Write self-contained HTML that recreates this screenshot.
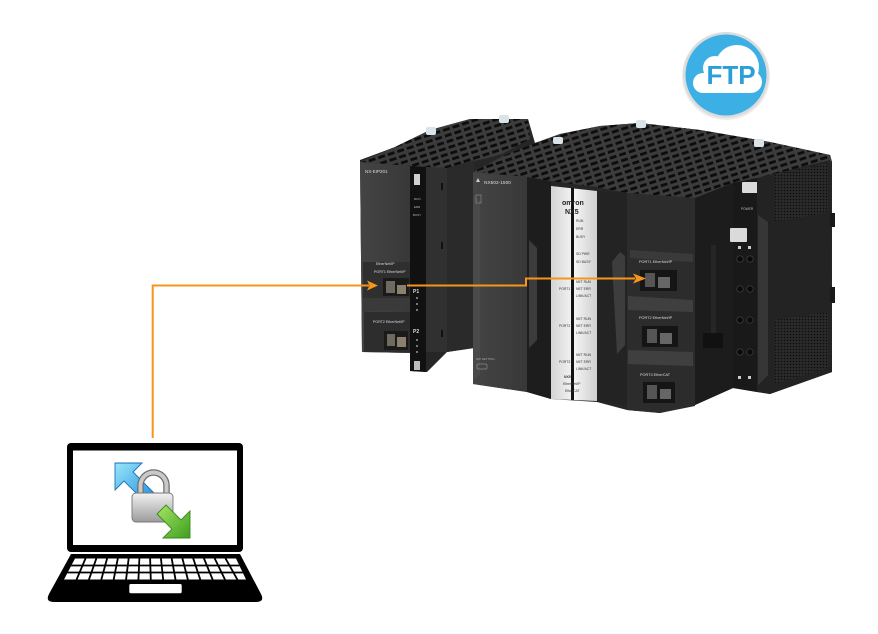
<!DOCTYPE html>
<html><head><meta charset="utf-8">
<style>
html,body{margin:0;padding:0;background:#fff;}
svg{display:block;}
text{font-family:"Liberation Sans",sans-serif;}
</style></head><body>
<svg width="878" height="634" viewBox="0 0 878 634" xmlns="http://www.w3.org/2000/svg">
<defs>
 <pattern id="vent" width="10" height="6" patternUnits="userSpaceOnUse" patternTransform="rotate(-18)">
   <rect width="10" height="6" fill="#3c3c3c"/>
   <rect x="1" y="1.6" width="7" height="2.8" fill="#0c0c0c"/>
 </pattern>
 <pattern id="dots" width="3" height="3" patternUnits="userSpaceOnUse">
   <rect width="3" height="3" fill="#2a2a2a"/>
   <circle cx="1.5" cy="1.5" r="0.8" fill="#0c0c0c"/>
 </pattern>
 <linearGradient id="strip" x1="0" x2="1" y1="0" y2="0">
   <stop offset="0" stop-color="#d4d4d4"/><stop offset="0.5" stop-color="#f5f5f5"/><stop offset="1" stop-color="#cfcfcf"/>
 </linearGradient>
 <linearGradient id="blueA" x1="0" y1="0" x2="1" y2="1">
   <stop offset="0" stop-color="#9ae6fb"/><stop offset="1" stop-color="#1f8ddc"/>
 </linearGradient>
 <linearGradient id="greenA" x1="0" y1="0" x2="1" y2="1">
   <stop offset="0" stop-color="#a6e665"/><stop offset="1" stop-color="#3e9e1f"/>
 </linearGradient>
 <linearGradient id="lockB" x1="0" y1="0" x2="0" y2="1">
   <stop offset="0" stop-color="#f2f2f2"/><stop offset="1" stop-color="#9b9b9b"/>
 </linearGradient>
 <linearGradient id="front" x1="0" y1="0" x2="1" y2="0">
   <stop offset="0" stop-color="#444"/><stop offset="1" stop-color="#383838"/>
 </linearGradient>
 <clipPath id="kb"><polygon points="75,558.5 236,558.5 246,579.5 64,579.5"/></clipPath>
</defs>

<!-- ===== FTP icon ===== -->
<circle cx="726" cy="76" r="44" fill="#ececec"/>
<circle cx="726" cy="75" r="43" fill="#dcdcdc"/>
<circle cx="726" cy="75" r="40.5" fill="#3cb0e4"/>
<g fill="#fff">
  <circle cx="703" cy="83" r="10"/>
  <circle cx="715" cy="68" r="12"/>
  <circle cx="737" cy="67" r="22"/>
  <circle cx="751" cy="82" r="11"/>
  <rect x="703" y="74" width="48" height="19"/>
</g>
<text x="731" y="84" text-anchor="middle" font-size="26" font-weight="bold" fill="#2a9fd9">FTP</text>

<!-- ===== PLC ===== -->
<polygon points="360,160 395,147 430,130 470,119 528,119 535,143 560,134 600,126 640,123 700,130 770,142 830,155 832,162 832,372 770,394 757,392 733,388 695,405 660,413 627,410 597,402 551,399 527,392 473,384 474,348 447,352 427,372 410,371 410,353 362,352" fill="#262626"/>

<polygon points="360,162 395,147 430,130 470,119 528,119 530,139 500,155 474,161 447,168 410,166" fill="url(#vent)"/>
<rect x="426" y="127" width="10" height="8" rx="2" fill="#d9e3e8"/>
<rect x="499" y="115" width="10" height="8" rx="2" fill="#d9e3e8"/>
<polygon points="360,162 410,166 410,353 362,352" fill="url(#front)"/>
<polygon points="410,166 426,167 426,372 410,371" fill="#111"/>
<rect x="414" y="174" width="6" height="11" fill="#cfcfcf"/>
<rect x="414" y="361" width="6" height="9" fill="#bdbdbd"/>
<polygon points="426,167 447,168 447,352 426,352" fill="#303030"/>
<polygon points="447,168 474,160 474,348 447,352" fill="#2a2a2a"/>
<rect x="441" y="183" width="2" height="7" fill="#111"/>
<rect x="441" y="242" width="2" height="7" fill="#111"/>
<rect x="441" y="330" width="2" height="7" fill="#111"/>
<text x="365" y="173" font-size="4.5" fill="#ddd">NX-EIP201</text>
<text x="414" y="200" font-size="3" fill="#bbb">RUN</text>
<text x="414" y="208" font-size="3" fill="#bbb">ERR</text>
<text x="413" y="216" font-size="3" fill="#bbb">BUSY</text>
<rect x="363" y="262" width="47" height="36" fill="#2f2f2f"/>
<text x="376" y="265" font-size="3.6" fill="#ddd">EtherNet/IP</text>
<text x="374" y="273" font-size="3.6" fill="#ddd">PORT1 EtherNet/IP</text>
<rect x="383" y="278" width="26" height="18" fill="#1a1a1a"/>
<rect x="386" y="281" width="9" height="12" fill="#6f6a60"/>
<rect x="397" y="285" width="9" height="9" fill="#8a8070"/>
<polygon points="363,298 410,298 410,308 363,312" fill="#3a3a3a"/>
<rect x="364" y="312" width="46" height="40" fill="#2d2d2d"/>
<text x="373" y="323" font-size="3.6" fill="#ddd">PORT2 EtherNet/IP</text>
<rect x="384" y="331" width="24" height="19" fill="#1a1a1a"/>
<rect x="387" y="334" width="8" height="12" fill="#6f6a60"/>
<rect x="397" y="337" width="9" height="10" fill="#8a8070"/>
<text x="413" y="293" font-size="5" font-weight="bold" fill="#ddd">P1</text>
<text x="413" y="333" font-size="5" font-weight="bold" fill="#ddd">P2</text>
<g fill="#777"><rect x="416" y="297" width="2" height="2"/><rect x="416" y="303" width="2" height="2"/><rect x="416" y="309" width="2" height="2"/><rect x="416" y="339" width="2" height="2"/><rect x="416" y="345" width="2" height="2"/><rect x="416" y="351" width="2" height="2"/></g>

<polygon points="473,172 505,155 535,143 560,134 600,126 640,123 700,130 770,142 830,155 832,162 757,178 733,183 695,198 627,193 597,187 550,181 527,177" fill="url(#vent)"/>
<rect x="553" y="137" width="10" height="7" rx="2" fill="#d9e3e8"/>
<rect x="636" y="120" width="10" height="8" rx="2" fill="#d9e3e8"/>
<rect x="754" y="139" width="10" height="8" rx="2" fill="#d9e3e8"/>
<polygon points="473,172 527,177 527,392 473,384" fill="url(#front)"/>
<polygon points="473,195 480,200 480,375 473,380" fill="#4a4a4a"/>
<text x="484" y="184" font-size="4.8" fill="#ddd">NX502-1500</text>
<polygon points="478,178 480,182 476,182" fill="#ccc"/>
<rect x="476" y="195" width="5" height="8" fill="none" stroke="#888" stroke-width="0.7"/>
<text x="476" y="360" font-size="3" fill="#aaa">SW SETTING</text>
<rect x="477" y="364" width="10" height="5" rx="1.5" fill="none" stroke="#888" stroke-width="0.7"/>
<polygon points="527,177 551,181 551,399 527,392" fill="#1d1d1d"/>
<polygon points="529,240 537,248 537,340 529,348" fill="#3c3c3c"/>
<polygon points="551,186 597,191 597,401 551,399" fill="url(#strip)"/>
<rect x="571" y="188" width="3" height="212" fill="#111"/>
<text x="562" y="205" font-size="7" font-weight="bold" fill="#222">omron</text>
<text x="565" y="214" font-size="7" font-weight="bold" fill="#222">NX5</text>
<g font-size="3.4" fill="#333">
 <text x="576" y="222">RUN</text>
 <text x="576" y="230">ERR</text>
 <text x="576" y="238">BUSY</text>
 <text x="576" y="255">SD PWR</text>
 <text x="576" y="263">SD BUSY</text>
 <text x="576" y="283">NET RUN</text>
 <text x="576" y="290">NET ERR</text>
 <text x="576" y="297">LINK/ACT</text>
 <text x="559" y="290">PORT1</text>
 <text x="576" y="320">NET RUN</text>
 <text x="576" y="327">NET ERR</text>
 <text x="576" y="334">LINK/ACT</text>
 <text x="559" y="327">PORT2</text>
 <text x="576" y="356">NET RUN</text>
 <text x="576" y="363">NET ERR</text>
 <text x="576" y="370">LINK/ACT</text>
 <text x="559" y="363">PORT3</text>
 <text x="564" y="378" font-weight="bold">NX5</text>
 <text x="563" y="385">EtherNet/IP</text>
 <text x="565" y="392">EtherCAT</text>
</g>
<polygon points="597,191 627,193 627,405 597,401" fill="#232323"/>
<polygon points="612,262 620,252 625,256 625,345 617,354" fill="#3d3d3d"/>
<polygon points="627,193 695,198 695,406 660,413 627,410" fill="#2c2c2c"/>
<polygon points="630,250 693,254 693,262 630,258" fill="#3a3a3a"/>
<text x="639" y="263" font-size="3.8" fill="#ddd">PORT1 EtherNet/IP</text>
<rect x="640" y="270" width="37" height="21" fill="#151515"/>
<rect x="645" y="273" width="10" height="14" fill="#555"/>
<rect x="658" y="277" width="12" height="11" fill="#666"/>
<polygon points="628,296 693,300 693,312 628,310" fill="#3f3f3f"/>
<text x="639" y="319" font-size="3.8" fill="#ddd">PORT2 EtherNet/IP</text>
<rect x="642" y="326" width="36" height="21" fill="#151515"/>
<rect x="647" y="329" width="10" height="14" fill="#555"/>
<rect x="660" y="333" width="12" height="11" fill="#666"/>
<polygon points="628,350 693,352 693,366 628,364" fill="#3f3f3f"/>
<text x="640" y="376" font-size="3.8" fill="#ddd">PORT3 EtherCAT</text>
<rect x="643" y="382" width="32" height="21" fill="#151515"/>
<rect x="647" y="385" width="10" height="14" fill="#555"/>
<rect x="660" y="389" width="11" height="10" fill="#666"/>
<polygon points="695,198 733,183 733,388 695,405" fill="#1c1c1c"/>
<rect x="711" y="245" width="5" height="100" fill="#262626"/>
<rect x="703" y="333" width="20" height="15" fill="#111"/>
<polygon points="733,183 757,178 757,392 733,388" fill="#191919"/>
<rect x="742" y="182" width="16" height="11" rx="1" fill="#dadada"/>
<rect x="730" y="228" width="17" height="14" rx="1" fill="#dadada"/>
<text x="741" y="210" font-size="3.2" fill="#bbb">POWER</text>
<g fill="#0a0a0a" stroke="#444" stroke-width="0.7">
 <circle cx="740" cy="259" r="3.2"/><circle cx="750" cy="259" r="3.2"/>
 <circle cx="740" cy="289" r="3.2"/><circle cx="750" cy="289" r="3.2"/>
 <circle cx="740" cy="320" r="3.2"/><circle cx="750" cy="320" r="3.2"/>
 <circle cx="740" cy="352" r="3.2"/><circle cx="750" cy="352" r="3.2"/>
</g>
<rect x="738" y="246" width="3" height="3" fill="#ccc"/><rect x="748" y="246" width="3" height="3" fill="#ccc"/>
<rect x="738" y="376" width="3" height="3" fill="#ccc"/><rect x="748" y="376" width="3" height="3" fill="#ccc"/>
<polygon points="757,178 830,160 832,372 770,394 757,392" fill="#232323"/>
<polygon points="775,174 828,163 828,212 775,222" fill="url(#dots)"/>
<polygon points="775,320 828,312 828,368 775,384" fill="url(#dots)"/>
<polygon points="758,215 768,222 768,375 758,385" fill="#363636"/>
<rect x="830" y="213" width="5" height="14" fill="#1a1a1a"/>
<rect x="830" y="287" width="5" height="16" fill="#1a1a1a"/>

<!-- ===== connectors ===== -->
<g fill="none" stroke="#f7941d" stroke-width="2">
  <path d="M152.7,438 V285.5 H369"/>
  <path d="M407,285.5 H526 V278.5 H635"/>
</g>
<polygon points="367,280.5 378,285.5 367,290.5 369.5,285.5" fill="#f7941d"/>
<polygon points="633,273.5 646,278.5 633,283.5 636,278.5" fill="#f7941d"/>

<!-- ===== laptop ===== -->
<rect x="67" y="443" width="176" height="109" rx="4" fill="#000"/>
<rect x="73" y="450.5" width="164" height="94.5" fill="#fff"/>
<path d="M71,554 L240,554 L261,594 Q265,602 256,602 L54,602 Q45,602 49,594 Z" fill="#000"/>
<polygon points="75,558.5 236,558.5 246,579.5 64,579.5" fill="#fff"/>
<g stroke="#000" stroke-width="1.8" clip-path="url(#kb)">
  <line x1="60" y1="565.5" x2="250" y2="565.5"/>
  <line x1="60" y1="572.5" x2="250" y2="572.5"/>
  <line x1="85.7" y1="558" x2="76.4" y2="580"/>
  <line x1="96.5" y1="558" x2="88.8" y2="580"/>
  <line x1="107.2" y1="558" x2="101.2" y2="580"/>
  <line x1="117.9" y1="558" x2="113.6" y2="580"/>
  <line x1="128.7" y1="558" x2="126" y2="580"/>
  <line x1="139.4" y1="558" x2="138.4" y2="580"/>
  <line x1="150.1" y1="558" x2="150.8" y2="580"/>
  <line x1="160.9" y1="558" x2="163.2" y2="580"/>
  <line x1="171.6" y1="558" x2="175.6" y2="580"/>
  <line x1="182.3" y1="558" x2="188" y2="580"/>
  <line x1="193.1" y1="558" x2="200.4" y2="580"/>
  <line x1="203.8" y1="558" x2="212.8" y2="580"/>
  <line x1="214.5" y1="558" x2="225.2" y2="580"/>
  <line x1="225.3" y1="558" x2="237.6" y2="580"/>
</g>
<rect x="129.3" y="584" width="52.4" height="9.3" rx="1.5" fill="#fff"/>

<!-- lock icon -->
<polygon points="115,463 142,463 133,472 154,493 145,502 124,481 115,490" fill="url(#blueA)" stroke="#1a6fb5" stroke-width="0.9"/>
<path d="M140.5,494 V485.5 A13,13 0 0 1 166.5,485.5 V494" fill="none" stroke="#6f6f6f" stroke-width="6.5"/>
<path d="M140.5,494 V485.5 A13,13 0 0 1 166.5,485.5 V494" fill="none" stroke="#c9c9c9" stroke-width="4"/>
<rect x="132" y="493" width="41" height="29" rx="4" fill="url(#lockB)" stroke="#777" stroke-width="0.9"/>
<polygon points="190,538 163,538 172,529 157,514 166,505 181,520 190,511" fill="url(#greenA)" stroke="#3a8a1a" stroke-width="0.9"/>
</svg>
</body></html>
